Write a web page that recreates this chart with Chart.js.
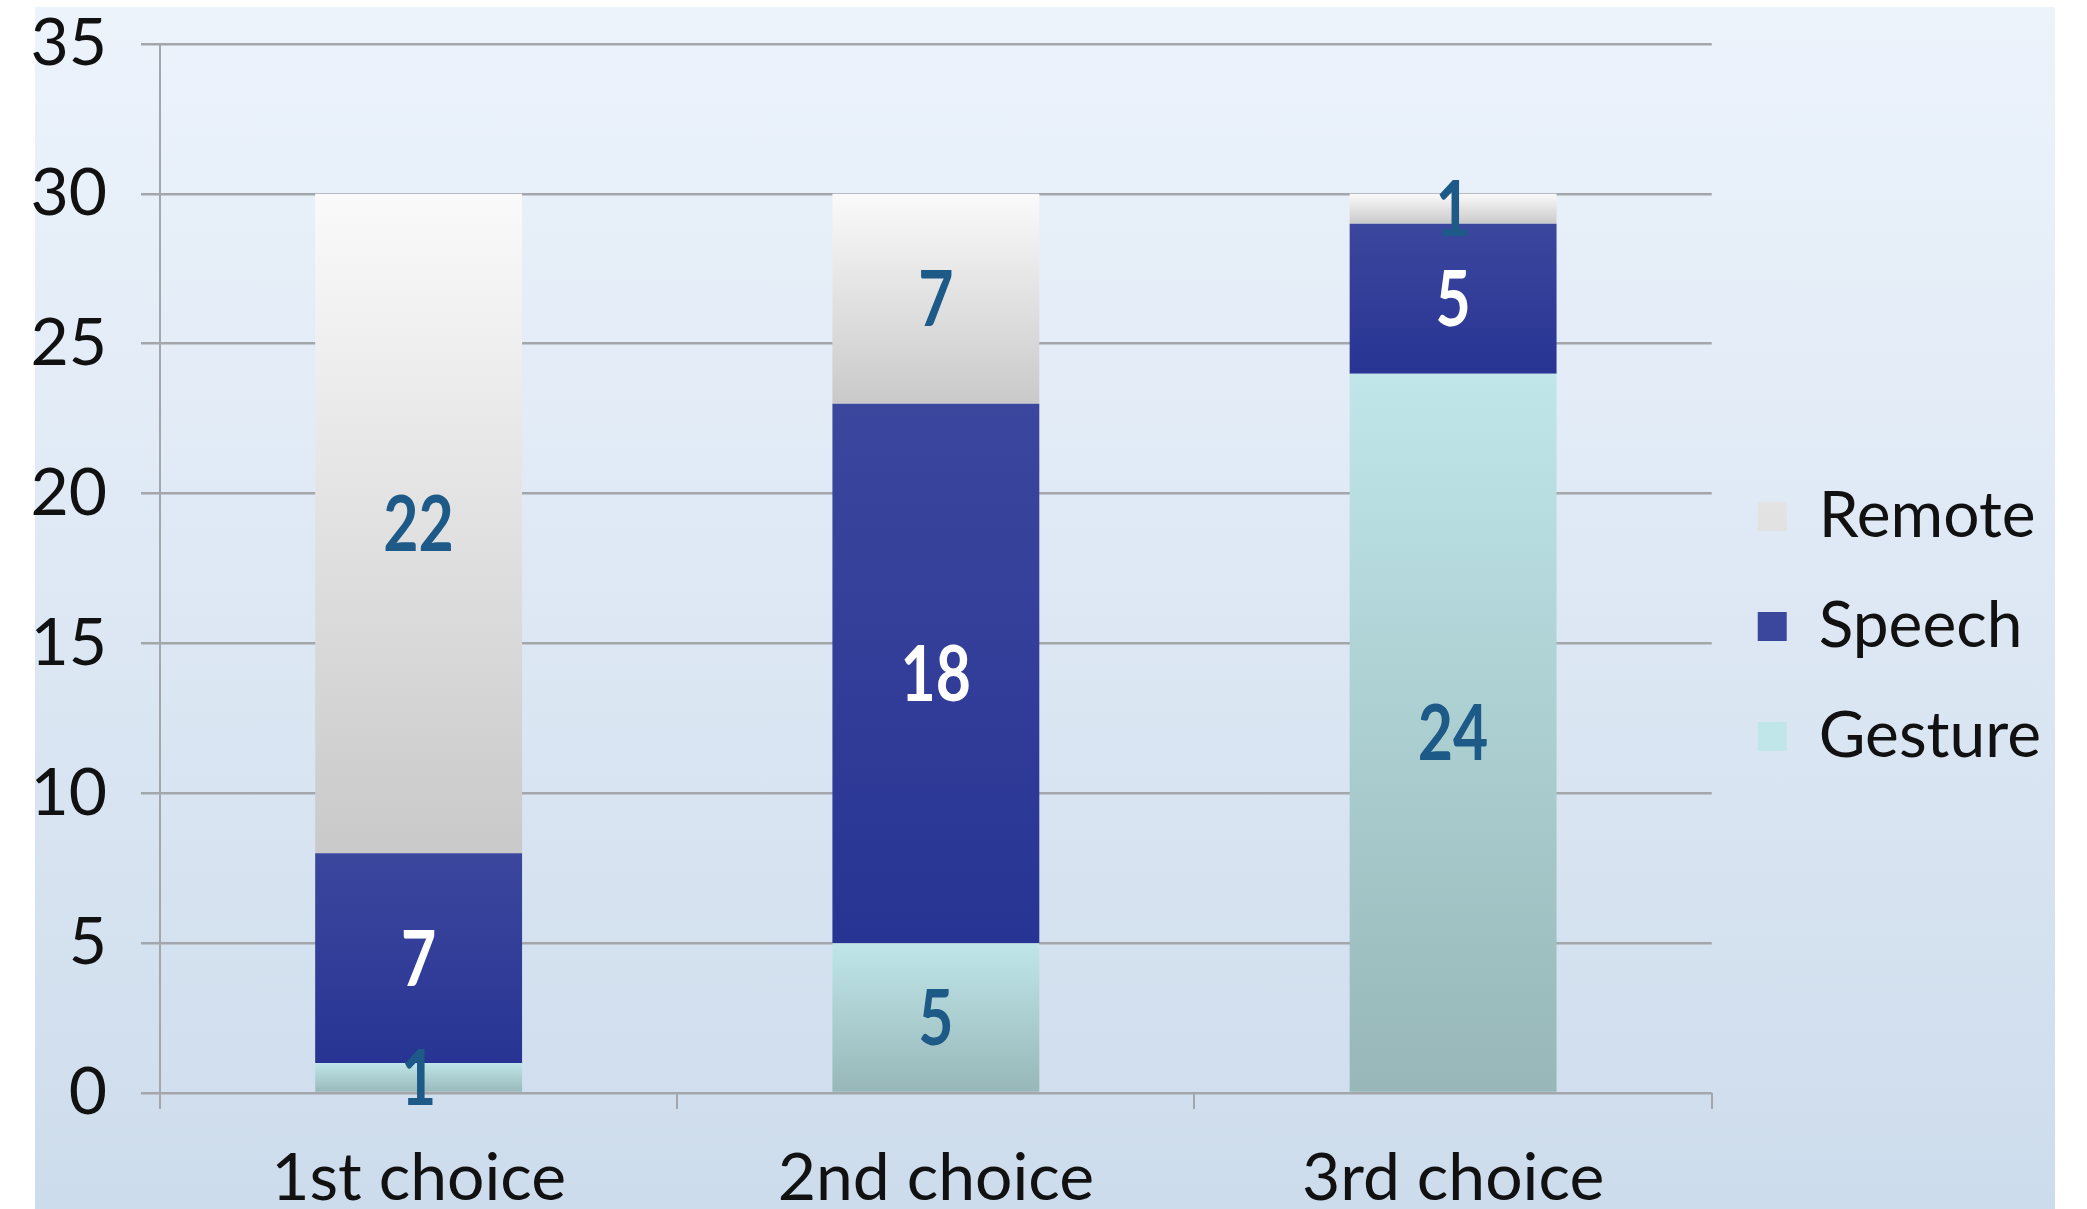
<!DOCTYPE html>
<html>
<head>
<meta charset="utf-8">
<script src="https://cdn.jsdelivr.net/npm/chart.js@4.4.1/dist/chart.umd.min.js"></script>
<style>
    html, body { margin: 0; padding: 0; background: #ffffff; }
    #panel {
        position: absolute; left: 35px; top: 7px; width: 2020px; height: 1202px;
        background: linear-gradient(to bottom, #ecf3fb 0%, #dfe9f5 45%, #cddcec 100%);
    }
    #wrap { position: absolute; left: 0; top: 0; width: 2087px; height: 1209px; }
</style>
</head>
<body>
<div id="panel"></div>
<div id="wrap"><canvas id="choiceChart"></canvas></div>
<script>
// Choice data (stacked, bottom to top)
const choices = ['1st choice', '2nd choice', '3rd choice'];
const gesture = [1, 5, 24];
const speech = [7, 18, 5];
const remote = [22, 7, 1];

// top / bottom colours of each segment gradient
const gestureColors = ['#c0e6e9', '#97b7b8'];
const speechColors = ['#3b479d', '#283493'];
const remoteColors = ['#fafafa', '#c9c9c9'];

function segmentFill(colors, legendColor) {
    return function(context) {
        const chart = context.chart;
        if (context.type !== 'data' || !chart.chartArea) return legendColor;
        const i = context.dataIndex;
        let start = 0;
        for (let k = 0; k < context.datasetIndex; k++) {
            start += chart.data.datasets[k].data[i];
        }
        const y = chart.scales.y;
        const yTop = y.getPixelForValue(start + context.raw);
        const yBottom = y.getPixelForValue(start);
        const g = chart.ctx.createLinearGradient(0, yTop, 0, yBottom);
        g.addColorStop(0, colors[0]);
        g.addColorStop(1, colors[1]);
        return g;
    };
}

// value labels in the middle of each segment
const segmentLabels = {
    id: 'segmentLabels',
    afterDatasetsDraw(chart) {
        const ctx = chart.ctx;
        chart.data.datasets.forEach((ds, d) => {
            const meta = chart.getDatasetMeta(d);
            meta.data.forEach((bar, i) => {
                const cy = (bar.y + bar.base) / 2;
                ctx.save();
                ctx.translate(bar.x, cy + 3);
                ctx.scale(0.8, 1);
                ctx.font = "bold 76px 'Lato', sans-serif";
                ctx.fillStyle = ds.labelColor;
                ctx.textAlign = 'center';
                ctx.textBaseline = 'middle';
                ctx.fillText(String(ds.data[i]), 0, 0);
                ctx.restore();
            });
        });
    }
};

const ctx = document.getElementById('choiceChart').getContext('2d');
const gridColor = '#a3a6aa';

new Chart(ctx, {
    type: 'bar',
    data: {
        labels: choices,
        datasets: [
            {
                label: 'Gesture',
                data: gesture,
                backgroundColor: segmentFill(gestureColors, '#abcfd1'),
                labelColor: '#1d5a87'
            },
            {
                label: 'Speech',
                data: speech,
                backgroundColor: segmentFill(speechColors, '#2f3b97'),
                labelColor: '#ffffff'
            },
            {
                label: 'Remote',
                data: remote,
                backgroundColor: segmentFill(remoteColors, '#e4e4e4'),
                labelColor: '#1d5a87'
            }
        ]
    },
    options: {
        responsive: true,
        maintainAspectRatio: false,
        animation: false,
        layout: {
            padding: { top: 44, left: 0, right: 36, bottom: 0 }
        },
        datasets: {
            bar: {
                categoryPercentage: 1.0,
                barPercentage: 0.4,
                borderWidth: 0
            }
        },
        plugins: {
            tooltip: { enabled: false },
            legend: {
                position: 'right',
                reverse: true,
                labels: {
                    boxWidth: 29,
                    boxHeight: 29,
                    padding: 46,
                    color: '#111111',
                    font: { size: 64, family: "'Lato', sans-serif" }
                }
            }
        },
        scales: {
            x: {
                stacked: true,
                grid: {
                    offset: true,
                    drawOnChartArea: false,
                    color: gridColor,
                    lineWidth: 2,
                    tickLength: 16
                },
                border: { display: false },
                ticks: {
                    color: '#111111',
                    padding: 30,
                    font: { size: 66, family: "'Lato', sans-serif" }
                },
                afterFit(scale) { scale.height = 116; }
            },
            y: {
                stacked: true,
                min: 0,
                max: 35,
                grid: {
                    color: gridColor,
                    lineWidth: 2.5,
                    tickLength: 19
                },
                border: { display: true, color: gridColor, width: 2 },
                ticks: {
                    stepSize: 5,
                    color: '#111111',
                    padding: 34,
                    font: { size: 66, family: "'Lato', sans-serif" }
                },
                afterFit(scale) {
                    scale.width = 160;
                    scale.paddingTop = 0;
                    scale.paddingBottom = 0;
                }
            }
        }
    },
    plugins: [segmentLabels]
});
</script>
</body>
</html>
